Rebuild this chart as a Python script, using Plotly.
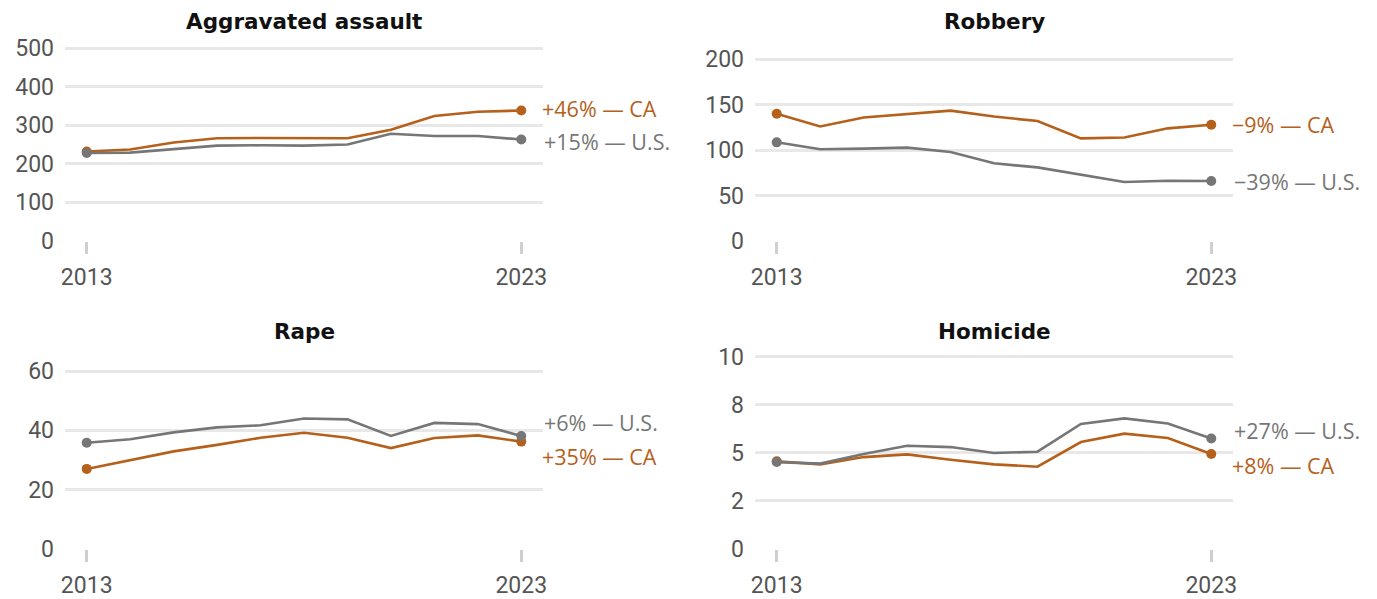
import plotly.graph_objects as go

years = list(range(2013, 2024))
assault_ca = [232, 237, 255, 266, 267, 266, 266, 288, 324, 335, 338]
assault_us = [228, 229, 238, 247, 248, 247, 250, 278, 272, 272, 263]
robbery_ca = [140, 126, 136, 140, 143.5, 137, 132, 113, 114, 124, 128]
robbery_us = [108.6, 101, 101.7, 102.8, 98, 85.5, 81, 73, 65, 66.4, 66]
rape_ca = [27, 30, 32.9, 35.1, 37.5, 39.2, 37.5, 34, 37.4, 38.3, 36.2]
rape_us = [35.8, 37, 39.3, 41, 41.7, 44, 43.7, 38.1, 42.5, 42.1, 38.1]
homicide_ca = [4.56, 4.40, 4.78, 4.92, 4.64, 4.40, 4.28, 5.56, 6.0, 5.77, 4.94]
homicide_us = [4.52, 4.44, 4.94, 5.37, 5.30, 4.99, 5.06, 6.5, 6.79, 6.53, 5.75]

titles = ["Aggravated assault", "Robbery", "Rape", "Homicide"]
ca_labels = ["+46% — CA", "−9% — CA", "+35% — CA", "+8% — CA"]
us_labels = ["+15% — U.S.", "−39% — U.S.", "+6% — U.S.", "+27% — U.S."]
y_ticks = [[0, 100, 200, 300, 400, 500], [0, 50, 100, 150, 200], [0, 20, 40, 60], [0, 2.5, 5, 7.5, 10]]
y_ticktext = [["0", "100", "200", "300", "400", "500"], ["0", "50", "100", "150", "200"],
              ["0", "20", "40", "60"], ["0", "2", "5", "8", "10"]]
x_ticks = [2013, 2023]

ORANGE = "#b5601b"
GRAY = "#767676"
GRID = "#e8e8e8"
TICKC = "#555555"
# the page body adds an 8px margin; compensate so the picture lines up
OX, OY = 8, 8
W, H = 1377 - OX, 599 - OY


def px_x(X):
    return (X - OX) / W


def px_y(Y):
    return 1 - (Y - OY) / H


# panel geometry in screen pixels
panels = [
    dict(x0=65, x1=543, ybot=241, ytop=48, ymax=500),
    dict(x0=755, x1=1233, ybot=241, ytop=59.3, ymax=200),
    dict(x0=65, x1=543, ybot=549, ytop=371, ymax=60),
    dict(x0=755, x1=1233, ybot=549, ytop=356.7, ymax=10),
]
title_y = [22, 22, 331, 331]
label_shift = [(-2.5, 2), (0, 0), (15, -13), (11, -8)]  # pixels moved down: (ca, us)
series = [(assault_ca, assault_us), (robbery_ca, robbery_us), (rape_ca, rape_us), (homicide_ca, homicide_us)]

fig = go.Figure()
layout = dict(width=W, height=H, autosize=False, margin=dict(l=0, r=0, t=0, b=0),
              plot_bgcolor="white", paper_bgcolor="white", showlegend=False,
              font=dict(family="Roboto", color=TICKC))
annotations = []
PAD = 4
for i, (p, (ca, us)) in enumerate(zip(panels, series)):
    n = i + 1
    xa = "x" if n == 1 else f"x{n}"
    ya = "y" if n == 1 else f"y{n}"
    for vals, col in [(ca, ORANGE), (us, GRAY)]:
        fig.add_trace(go.Scatter(x=years, y=vals, mode="lines", line=dict(color=col, width=2.6),
                                 xaxis=xa, yaxis=ya, cliponaxis=False, hoverinfo="skip"))
    for vals, col in [(ca, ORANGE), (us, GRAY)]:
        fig.add_trace(go.Scatter(x=[years[0], years[-1]], y=[vals[0], vals[-1]], mode="markers",
                                 marker=dict(color=col, size=10), xaxis=xa, yaxis=ya,
                                 cliponaxis=False, hoverinfo="skip"))
    ppu = (p["ybot"] - p["ytop"]) / p["ymax"]
    top_px = p["ytop"] - PAD
    ymax = p["ymax"] + PAD / ppu
    xkey = "xaxis" if n == 1 else f"xaxis{n}"
    ykey = "yaxis" if n == 1 else f"yaxis{n}"
    layout[xkey] = dict(domain=[px_x(p["x0"]), px_x(p["x1"])], range=[2012.5, 2023.5], anchor=ya,
                        tickvals=x_ticks, ticktext=[str(v) for v in x_ticks], ticks="outside",
                        ticklen=12, tickwidth=2.5, tickcolor="#cfcfcf", showgrid=False,
                        zeroline=False, showline=False, fixedrange=True, automargin=False,
                        tickfont=dict(family="Roboto", size=23, color=TICKC), ticklabelstandoff=3)
    layout[ykey] = dict(domain=[px_y(p["ybot"]), px_y(top_px)], range=[0, ymax], anchor=xa,
                        tickvals=y_ticks[i], ticktext=y_ticktext[i], showgrid=True, gridcolor=GRID,
                        gridwidth=2.5, zeroline=False, showline=False, ticks="", fixedrange=True,
                        automargin=False,
                        tickfont=dict(family="Roboto", size=23, color=TICKC), ticklabelstandoff=10)
    annotations.append(dict(text=f"<b>{titles[i]}</b>", x=px_x((p["x0"] + p["x1"]) / 2), y=px_y(title_y[i]),
                            xref="paper", yref="paper", xanchor="center", yanchor="middle", showarrow=False,
                            font=dict(family="DejaVu Sans", size=21.5, color="#111111")))
    annotations.append(dict(text=ca_labels[i], x=years[-1], y=ca[-1], xref=xa, yref=ya, xanchor="left",
                            yanchor="middle", xshift=19, yshift=-label_shift[i][0], showarrow=False,
                            font=dict(family="Open Sans", size=21.5, color=ORANGE)))
    annotations.append(dict(text=us_labels[i], x=years[-1], y=us[-1], xref=xa, yref=ya, xanchor="left",
                            yanchor="middle", xshift=21, yshift=-label_shift[i][1], showarrow=False,
                            font=dict(family="Open Sans", size=21.5, color=GRAY)))
layout["annotations"] = annotations
fig.update_layout(**layout)
fig.write_html("out.html")
